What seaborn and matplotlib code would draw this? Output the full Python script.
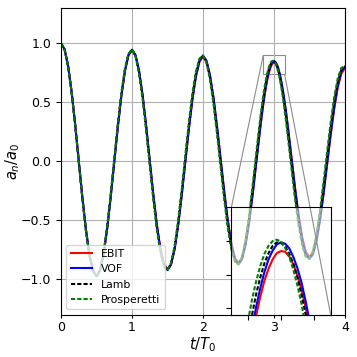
import matplotlib
matplotlib.use("Agg")
import matplotlib.pyplot as plt
import numpy as np
import seaborn as sns
from mpl_toolkits.axes_grid1.inset_locator import mark_inset

# 采样时刻 t/T0 (峰值附近加密, 用于放大图)
t = np.concatenate([np.linspace(0, 2.75, 56),
                    np.linspace(2.8, 3.1875, 32),
                    np.linspace(3.2, 4.0, 17)])

# a_n/a_0
ebit = [1.000, 0.948, 0.805, 0.583, 0.307, 0.002, -0.301, -0.573, -0.788, -0.925,
        -0.970, -0.922, -0.783, -0.569, -0.301, -0.006, 0.289, 0.553, 0.762, 0.896,
        0.942, 0.895, 0.762, 0.556, 0.296, 0.009, -0.277, -0.534, -0.738, -0.869,
        -0.914, -0.870, -0.742, -0.542, -0.291, -0.013, 0.265, 0.515, 0.714, 0.842,
        0.887, 0.845, 0.722, 0.529, 0.285, 0.016, -0.254, -0.497, -0.691, -0.816,
        -0.860, -0.821, -0.703, -0.516, -0.280, -0.019,
        0.243, 0.306, 0.366, 0.424, 0.480, 0.532, 0.581, 0.627,
        0.668, 0.706, 0.739, 0.767, 0.791, 0.809, 0.823, 0.832,
        0.835, 0.834, 0.827, 0.815, 0.798, 0.777, 0.750, 0.719,
        0.684, 0.644, 0.601, 0.554, 0.503, 0.450, 0.394, 0.335,
        0.275, 0.021, -0.233, -0.463, -0.647, -0.766, -0.810, -0.776, -0.665,
        -0.491, -0.270, -0.024, 0.223, 0.447, 0.626, 0.743, 0.786]

vof = [1.000, 0.949, 0.805, 0.584, 0.307, 0.001, -0.302, -0.575, -0.790, -0.927,
       -0.973, -0.924, -0.785, -0.570, -0.301, -0.004, 0.291, 0.557, 0.767, 0.901,
       0.946, 0.900, 0.765, 0.557, 0.296, 0.007, -0.281, -0.540, -0.745, -0.876,
       -0.921, -0.876, -0.746, -0.544, -0.290, -0.010, 0.271, 0.523, 0.723, 0.851,
       0.896, 0.853, 0.727, 0.532, 0.285, 0.012, -0.261, -0.507, -0.702, -0.827,
       -0.871, -0.831, -0.709, -0.519, -0.280, -0.014,
       0.251, 0.314, 0.376, 0.435, 0.491, 0.544, 0.593, 0.639,
       0.681, 0.719, 0.752, 0.780, 0.804, 0.823, 0.836, 0.845,
       0.848, 0.846, 0.839, 0.826, 0.809, 0.787, 0.759, 0.728,
       0.691, 0.651, 0.607, 0.559, 0.507, 0.453, 0.396, 0.336,
       0.274, 0.016, -0.242, -0.475, -0.661, -0.781, -0.825, -0.788, -0.674,
       -0.495, -0.269, -0.018, 0.233, 0.460, 0.642, 0.759, 0.802]

lamb = [1.000, 0.948, 0.804, 0.582, 0.304, -0.003, -0.307, -0.580, -0.794, -0.929,
        -0.973, -0.921, -0.779, -0.562, -0.290, 0.008, 0.304, 0.568, 0.775, 0.906,
        0.946, 0.894, 0.755, 0.542, 0.278, -0.013, -0.300, -0.557, -0.757, -0.883,
        -0.921, -0.868, -0.731, -0.523, -0.265, 0.017, 0.297, 0.546, 0.740, 0.860,
        0.896, 0.843, 0.708, 0.505, 0.253, -0.022, -0.293, -0.535, -0.722, -0.838,
        -0.871, -0.819, -0.686, -0.487, -0.242, 0.026,
        0.290, 0.352, 0.412, 0.470, 0.524, 0.575, 0.622, 0.666,
        0.705, 0.740, 0.771, 0.796, 0.817, 0.832, 0.843, 0.848,
        0.847, 0.842, 0.831, 0.816, 0.795, 0.769, 0.739, 0.704,
        0.665, 0.622, 0.575, 0.524, 0.470, 0.414, 0.355, 0.294,
        0.231, -0.030, -0.286, -0.513, -0.689, -0.796, -0.824, -0.772, -0.644,
        -0.454, -0.220, 0.034, 0.283, 0.503, 0.673, 0.775, 0.802]

prosperetti = [1.000, 0.948, 0.803, 0.580, 0.301, -0.007, -0.312, -0.584, -0.798, -0.932,
               -0.974, -0.919, -0.774, -0.554, -0.280, 0.019, 0.316, 0.579, 0.784, 0.911,
               0.948, 0.890, 0.746, 0.529, 0.261, -0.032, -0.319, -0.574, -0.771, -0.891,
               -0.922, -0.863, -0.719, -0.505, -0.242, 0.043, 0.322, 0.568, 0.757, 0.870,
               0.897, 0.836, 0.692, 0.481, 0.224, -0.054, -0.325, -0.563, -0.744, -0.850,
               -0.873, -0.809, -0.666, -0.459, -0.207, 0.064,
               0.327, 0.389, 0.448, 0.504, 0.557, 0.606, 0.652, 0.693,
               0.730, 0.763, 0.790, 0.813, 0.831, 0.843, 0.850, 0.852,
               0.849, 0.840, 0.826, 0.807, 0.783, 0.755, 0.721, 0.683,
               0.641, 0.595, 0.546, 0.493, 0.437, 0.378, 0.317, 0.254,
               0.190, -0.074, -0.329, -0.550, -0.717, -0.811, -0.826, -0.758, -0.617,
               -0.416, -0.174, 0.083, 0.330, 0.544, 0.703, 0.792, 0.803]

series = [(ebit, "EBIT", "red", "-"),
          (vof, "VOF", "blue", "-"),
          (lamb, "Lamb", "black", (0, (2, 1))),
          (prosperetti, "Prosperetti", "green", (0, (2, 1)))]

fig, ax = plt.subplots(figsize=(3.57, 3.57), dpi=100)
fig.subplots_adjust(left=0.171, right=0.966, bottom=0.118, top=0.978)

for y, name, c, ls in series:
    sns.lineplot(x=t, y=y, ax=ax, color=c, linestyle=ls, lw=1.5, label=name)

ax.set_xlim(0, 4)
ax.set_ylim(-1.3, 1.3)
ax.grid(True)
ax.set_xlabel("$t/T_0$", fontsize=10.5, labelpad=0.5)
ax.set_ylabel("$a_n/a_0$", fontsize=10.5, labelpad=-1)
ax.tick_params(labelsize=9)
ax.tick_params(axis="x", length=2.5, pad=2)
ax.legend(loc="lower left", fontsize=7.8)

# 放大图
axins = ax.inset_axes([0.6, 0.0, 0.35, 0.35])
for y, name, c, ls in series:
    sns.lineplot(x=t, y=y, ax=axins, color=c, linestyle=ls, lw=1.5, legend=False)
axins.set_xlim(2.85, 3.15)
axins.set_ylim(0.74, 0.90)
axins.set_facecolor((1, 1, 1, 0.55))
axins.set_xticklabels([])
axins.set_yticklabels([])
axins.set_xlabel("")
axins.set_ylabel("")
mark_inset(ax, axins, loc1=2, loc2=4, fc="none", ec="0.55", lw=0.8)

fig.savefig("out.png", dpi=100)
